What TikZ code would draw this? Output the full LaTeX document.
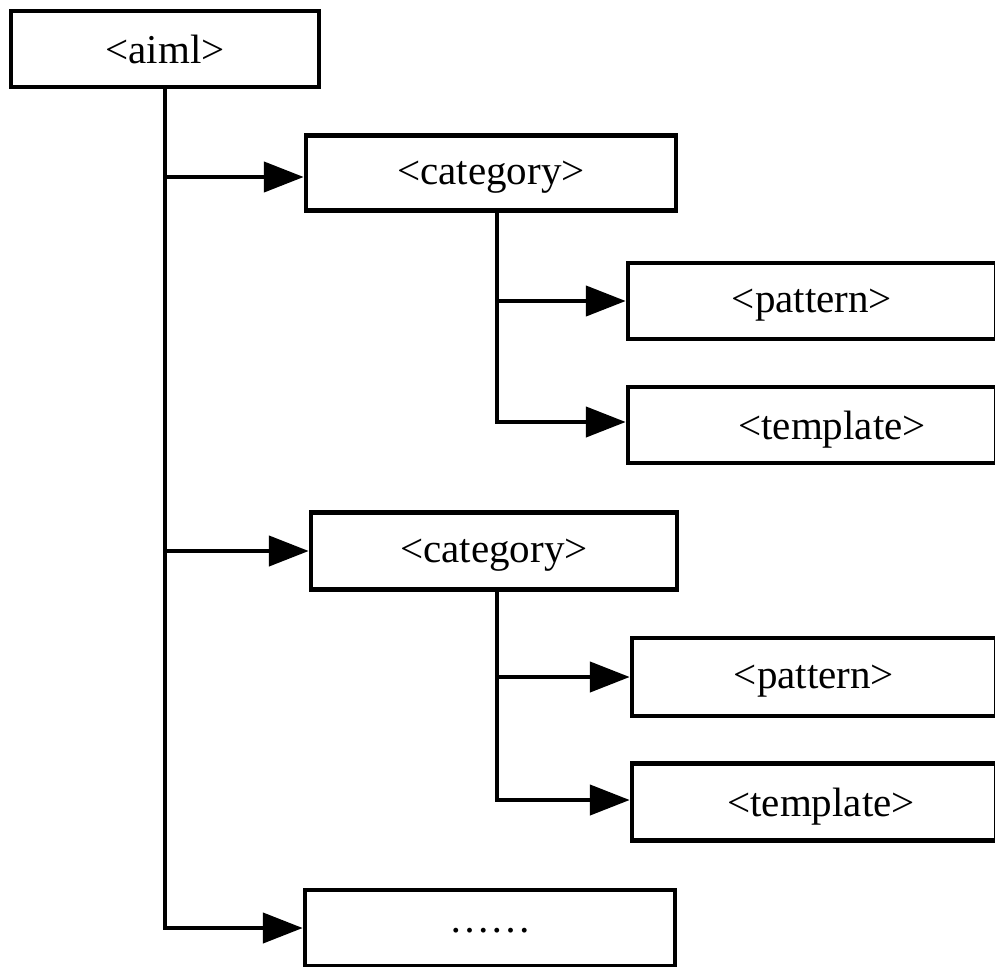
\documentclass[tikz,border=0pt]{standalone}
\usepackage{fontspec}
\setmainfont{Liberation Serif}
\usetikzlibrary{arrows.meta}
\begin{document}
\begin{tikzpicture}[x=1pt,y=-1pt,
  box/.style={draw, line width=4.5pt, inner sep=0pt, text depth=0pt, font=\fontsize{41}{48}\selectfont},
  arr/.style={line width=4.5pt, -{Triangle[length=40pt,width=30pt]}}]
\useasboundingbox (0,0) rectangle (995,966);
\clip (0,0) rectangle (995,966);
% boxes
\node[box, minimum width=308pt, minimum height=76pt] (aiml) at (165,49) {<aiml>};
\node[box, minimum width=370pt, minimum height=75pt] (cat1) at (491,173) {<category>};
\node[box, minimum width=368pt, minimum height=76pt] (pat1) at (812,301) {<pattern>};
\node[box, minimum width=368pt, minimum height=76pt] (tmpl1) at (812,425) {\hspace*{40pt}<template>};
\node[box, minimum width=366pt, minimum height=77pt] (cat2) at (494,551) {<category>};
\node[box, minimum width=364pt, minimum height=78pt] (pat2) at (814,677) {<pattern>};
\node[box, minimum width=364pt, minimum height=77pt] (tmpl2) at (814,802) {\hspace*{14pt}<template>};
\node[box, minimum width=370pt, minimum height=76pt] (dots) at (490,928) {\raisebox{-4pt}{……}};
% trunk coordinates
\coordinate (t1) at (497,211);
\coordinate (t2) at (497,589);
% connectors from aiml
\draw[arr] (aiml.south) |- (dots.west);
\draw[arr] (aiml.south |- 0,177) -- (cat1.west |- 0,177);
\draw[arr] (aiml.south |- cat2.west) -- (cat2.west);
% connectors from category 1
\draw[arr] (t1) |- (tmpl1.west |- 0,422);
\draw[arr] (t1 |- pat1.west) -- (pat1.west);
% connectors from category 2
\draw[arr] (t2) |- (tmpl2.west |- 0,800);
\draw[arr] (t2 |- pat2.west) -- (pat2.west);
\end{tikzpicture}
\end{document}
